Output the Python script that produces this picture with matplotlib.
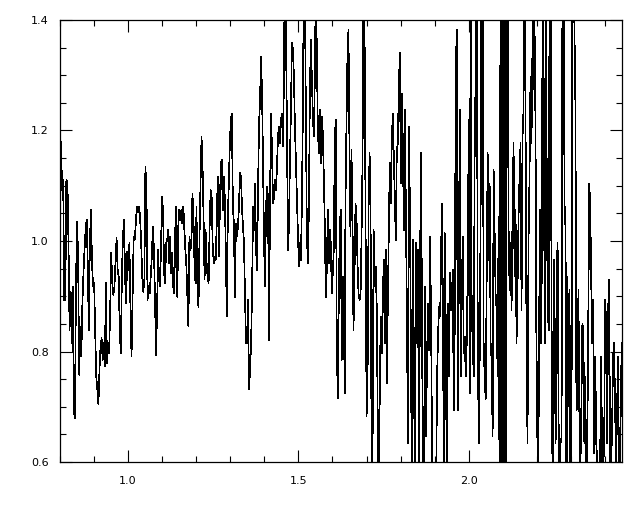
import numpy as np
import matplotlib.pyplot as plt
from matplotlib.ticker import MultipleLocator, FormatStrFormatter

# spectrum (wavelength ranges per piece)
flux_a = [1.180, 1.092, 1.111, 0.893, 0.893, 1.111, 1.108, 0.996, 0.839, 0.908,
          0.815, 0.918, 0.694, 0.679, 0.918, 1.035, 0.972, 0.758, 0.845, 0.791,
          0.887, 0.942, 0.984, 1.020, 1.038, 0.960, 0.839, 0.996, 1.056, 0.960,
          0.918, 0.924, 0.833, 0.755, 0.731, 0.704, 0.767, 0.809, 0.824, 0.785,
          0.815, 0.773, 0.924, 0.779, 0.809, 0.797, 0.875, 0.978, 0.924, 0.902,
          0.918, 0.960, 1.005, 0.948, 0.936, 0.833, 0.797, 0.942, 1.008, 1.038,
          0.930, 0.887, 0.981, 0.948, 0.996, 0.875, 0.791, 0.899, 1.008, 1.002,
          1.032, 1.062, 1.053, 1.062, 1.044, 0.999, 0.936, 0.908, 0.930, 1.135,
          1.089, 0.893, 0.918, 0.905, 0.936, 0.972, 1.026, 0.984, 0.893]
flux_b = [0.794, 0.875, 0.984, 0.930, 0.918, 0.996, 1.080, 1.050, 0.942, 0.924,
          0.996, 1.002, 1.020, 0.960, 1.008, 0.942, 0.978, 0.918, 0.905, 1.020,
          1.062, 0.899, 1.026, 1.056, 1.038, 1.056, 1.032, 1.062, 1.020, 0.984,
          0.954, 0.899, 0.845, 1.008, 0.984, 0.996, 1.086, 1.044, 0.960, 0.924,
          1.062, 0.899, 0.881, 1.008, 1.104, 1.189, 1.135, 1.044, 0.930, 1.020,
          0.960, 0.936, 0.924, 1.026, 1.092, 1.080, 0.996, 0.960, 0.972, 0.966,
          1.032, 1.117, 0.972, 1.044, 1.141, 1.147, 1.056, 1.117, 1.080, 0.984,
          0.863, 1.044, 1.104, 1.177, 1.219, 1.231, 1.062, 1.032, 0.899, 1.032,
          1.008, 1.026, 1.062, 1.123, 1.117, 1.062, 1.026, 0.996, 0.899, 0.815,
          0.815, 0.893, 0.731, 0.767]
flux_c = [0.815, 0.911, 1.062, 1.020, 1.104, 0.984, 0.948, 1.098, 1.213, 1.255,
          1.334, 1.267, 1.141, 0.996, 0.918, 1.062, 1.098, 1.080, 0.821, 1.074,
          1.231, 1.165, 1.068, 1.080, 1.111, 1.092, 1.135, 1.189, 1.207, 1.177,
          1.219, 1.231, 1.171, 1.297, 1.550, 1.382, 1.201, 0.984, 1.026, 1.147,
          1.237, 1.358, 1.346, 1.297, 1.207, 1.141, 1.080, 1.014, 0.954, 0.996,
          0.966, 1.068, 1.237, 1.500, 1.450, 1.231, 1.008, 0.960, 1.056, 1.267,
          1.364, 1.297, 1.225, 1.189, 1.297, 1.480, 1.334, 1.201, 1.159, 1.237,
          1.141, 1.225, 1.195, 1.117, 1.026, 0.899, 0.948, 1.056, 0.960, 1.020,
          0.996, 0.905, 0.942, 0.984, 1.189, 1.219, 0.809, 0.716, 0.887, 1.026,
          1.056, 0.785, 0.936, 0.875, 0.725]
flux_d = [1.062, 1.207, 1.334, 1.382, 1.171, 1.008, 1.165, 1.044, 0.839, 0.936,
          1.068, 1.044, 0.960, 0.905, 0.893, 0.899, 1.008, 1.147, 1.520, 1.382,
          1.020, 0.682, 0.755, 1.068, 1.159, 1.032, 0.598, 0.640, 1.020, 0.918,
          0.954, 0.887, 0.694, 0.550, 0.707, 0.863, 0.797, 0.881, 0.966, 0.815,
          0.984, 0.743, 0.875, 1.008, 1.141, 1.068, 1.177, 1.231, 1.153, 1.080,
          1.002, 1.165, 1.177, 1.279, 1.340, 1.104, 1.267, 1.177, 1.020, 1.237,
          1.056, 0.875, 0.634, 1.207, 1.062, 0.815, 0.530, 1.002, 0.785, 0.530,
          0.996, 0.815, 0.984, 0.530, 0.936, 1.159, 0.875, 0.530, 0.586, 0.918,
          0.646, 0.785, 0.887, 0.803, 1.008, 0.863, 0.622, 0.550, 0.586, 0.598,
          0.550, 0.755, 0.833, 0.881, 0.863]
flux_e = [0.936, 1.068, 0.911, 0.586, 1.014, 0.845, 0.550, 0.887, 0.755, 0.942,
          0.875, 0.893, 0.948, 0.694, 0.845, 1.309, 1.382, 0.694, 0.905, 1.237,
          0.755, 0.899, 1.008, 0.797, 0.827, 0.755, 0.815, 0.948, 1.219, 0.725,
          1.550, 0.875, 0.815, 0.755, 1.165, 1.309, 1.600, 0.875, 0.634, 0.785,
          1.068, 1.600, 1.500, 0.815, 0.755, 0.713, 0.924, 1.159, 0.966, 1.104,
          0.815, 0.785, 0.646, 1.129, 1.020, 0.905, 0.875, 0.755, 1.044, 0.500,
          1.600, 0.500, 1.600, 0.500, 1.600, 0.500, 1.225, 1.500, 1.026, 0.911,
          0.996, 0.875, 1.056, 1.177, 0.936, 1.056, 0.815, 0.918, 1.044, 1.117,
          1.177, 0.875, 1.189, 1.237, 1.500, 1.237, 0.815, 0.634, 0.996, 1.117,
          1.297, 1.177, 1.358, 1.500, 1.237, 1.370]
flux_f = [0.924, 0.755, 0.550, 0.704, 1.056, 0.815, 0.936, 1.550, 1.237, 0.815,
          1.600, 1.117, 0.875, 0.839, 1.600, 1.500, 0.755, 0.550, 0.966, 0.815,
          0.634, 0.948, 0.996, 0.676, 0.500, 0.634, 0.646, 1.600, 1.500, 1.068,
          1.020, 0.500, 0.936, 0.701, 0.911, 0.500, 0.592, 1.600, 1.500, 1.382,
          1.243, 0.694, 0.701, 0.911, 0.676, 0.586, 0.701, 0.851, 0.839, 0.634,
          0.755, 0.500, 0.634, 0.875, 1.104, 1.056, 0.918, 0.815, 0.893, 0.616,
          0.791, 0.634, 0.604, 0.550, 0.586, 0.616, 0.791, 0.592, 0.586, 0.634,
          0.893, 0.851, 0.634, 0.875, 0.930, 0.604, 0.586, 0.664, 0.791, 0.815,
          0.707, 0.580, 0.694, 0.791, 0.586, 0.550, 0.755, 0.815]

pieces = [flux_a, flux_b, flux_c, flux_d, flux_e, flux_f]
wave_bounds = [(0.803, 1.079), (1.082, 1.358), (1.361, 1.636),
               (1.638, 1.916), (1.918, 2.196), (2.197, 2.450)]

wave = np.concatenate([np.linspace(lo, hi, len(p)) for (lo, hi), p in zip(wave_bounds, pieces)])
flux = np.concatenate(pieces)

fig = plt.figure(figsize=(6.4, 5.12), dpi=100, facecolor='white')
ax = fig.add_axes([60/640, 50/512, 562/640, 442/512])

# IDL-style plain black trace, 1 px wide
ax.plot(wave, flux, color='black', lw=0.5, antialiased=False)

ax.set_xlim(0.8, 2.45)
ax.set_ylim(0.6, 1.4)
ax.xaxis.set_major_locator(MultipleLocator(0.5))
ax.xaxis.set_minor_locator(MultipleLocator(0.1))
ax.yaxis.set_major_locator(MultipleLocator(0.2))
ax.yaxis.set_minor_locator(MultipleLocator(0.05))
ax.xaxis.set_major_formatter(FormatStrFormatter('%.1f'))
ax.yaxis.set_major_formatter(FormatStrFormatter('%.1f'))

ax.tick_params(which='both', direction='in', top=True, right=True, width=0.8,
               labelsize=8, colors='black')
ax.tick_params(which='major', length=8.5)
ax.tick_params(which='minor', length=4.5)
ax.tick_params(axis='x', which='major', pad=10)
ax.tick_params(axis='y', which='major', pad=8)
for s in ax.spines.values():
    s.set_linewidth(0.9)

fig.savefig('out.png', dpi=100, facecolor='white')
